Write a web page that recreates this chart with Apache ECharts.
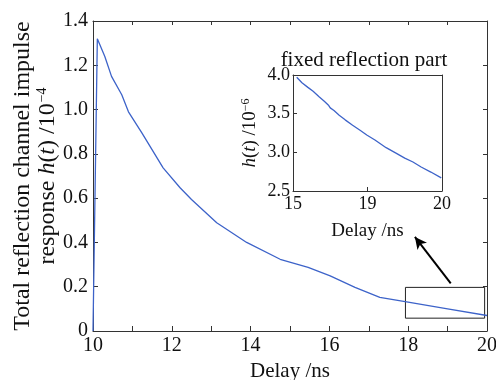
<!DOCTYPE html>
<html><head><meta charset="utf-8">
<script src="https://cdn.jsdelivr.net/npm/echarts@6/dist/echarts.min.js"></script>
<style>html,body{margin:0;padding:0;background:#fff}#c{width:496px;height:380px}</style>
</head><body><div id="c"></div>
<script>
// Main curve: delay (ns) vs h(t) (x1e-4)
const mainDelay = [10.0, 10.11, 10.3, 10.47, 10.73, 10.9, 11.24, 11.78, 12.21, 12.5, 13.14, 13.9, 14.75, 15.46, 16.02, 16.65, 17.28, 17.96, 19.0, 20.0];
const mainH     = [0, 1.32, 1.24, 1.15, 1.067, 0.99, 0.895, 0.737, 0.647, 0.594, 0.489, 0.40, 0.324, 0.287, 0.249, 0.197, 0.152, 0.132, 0.10, 0.07];
// Inset: fixed reflection part (x1e-6)
const insetDelay = [18.05, 18.12, 18.2, 18.27, 18.35, 18.42, 18.48, 18.5, 18.55, 18.62, 18.7, 18.8, 18.9, 18.99, 19.1, 19.25, 19.4, 19.5, 19.61, 19.72, 19.85, 19.99];
const insetH     = [3.97, 3.90, 3.84, 3.79, 3.72, 3.66, 3.605, 3.575, 3.54, 3.48, 3.42, 3.35, 3.285, 3.225, 3.16, 3.06, 2.98, 2.925, 2.875, 2.81, 2.745, 2.67];
// Tick labels
const mainYTicks = [0, 0.2, 0.4, 0.6, 0.8, 1.0, 1.2, 1.4];
const mainXTicks = [10, 12, 14, 16, 18, 20];
const insetXTicks = [18, 19, 20];
const insetXLabels = ['15', '19', '20'];
const insetYTicks = [2.5, 3.0, 3.5, 4.0];

const FONT = 'Liberation Serif';
const AX = '#333';
const LINE = '#3d63c9';

const chart = echarts.init(document.getElementById('c'), null, {renderer: 'canvas'});
const lbl = (sz) => ({color: '#111', fontFamily: FONT, fontSize: sz});

const option = {
  animation: false,
  backgroundColor: '#fff',
  grid: [
    {left: 93, right: 9, top: 21, bottom: 49, containLabel: false, outerBoundsMode: 'none'},
    {left: 293, right: 54, top: 75, bottom: 189, containLabel: false, outerBoundsMode: 'none'}
  ],
  xAxis: [
    {gridIndex: 0, type: 'value', min: 10, max: 20, interval: 2, position: 'bottom',
     name: 'Delay /ns', nameLocation: 'middle', nameGap: 30,
     nameTextStyle: lbl(21),
     axisLine: {show: true, lineStyle: {color: AX, width: 1}},
     axisTick: {show: true, inside: true, length: 5, lineStyle: {color: AX}},
     minorTick: {show: true, splitNumber: 2, length: 5, lineStyle: {color: AX}},
     axisLabel: Object.assign(lbl(20), {margin: 5, formatter: v => mainXTicks.includes(v) ? String(v) : ''}),
     splitLine: {show: false}},
    {gridIndex: 0, type: 'value', min: 10, max: 20, interval: 2, position: 'top',
     axisLine: {show: true, onZero: false, lineStyle: {color: AX, width: 1}},
     axisTick: {show: true, inside: true, length: 4, lineStyle: {color: AX}},
     minorTick: {show: true, splitNumber: 2, length: 4, lineStyle: {color: AX}},
     axisLabel: {show: false}, splitLine: {show: false}},
    {gridIndex: 1, type: 'value', min: 18, max: 20, interval: 1, position: 'bottom',
     name: 'Delay /ns', nameLocation: 'middle', nameGap: 31,
     nameTextStyle: lbl(19),
     axisLine: {show: true, lineStyle: {color: AX, width: 1}},
     axisTick: {show: true, inside: true, length: 4, lineStyle: {color: AX}},
     axisLabel: Object.assign(lbl(18), {margin: 4, formatter: v => {
       const i = insetXTicks.indexOf(v); return i >= 0 ? insetXLabels[i] : '';}}),
     splitLine: {show: false}},
    {gridIndex: 1, type: 'value', min: 18, max: 20, position: 'top',
     axisLine: {show: true, onZero: false, lineStyle: {color: AX, width: 1}},
     axisTick: {show: false}, axisLabel: {show: false}, splitLine: {show: false}}
  ],
  yAxis: [
    {gridIndex: 0, type: 'value', min: 0, max: 1.4, interval: 0.2, position: 'left',
     name: '{n|Total reflection channel impulse}\n{n|response }{i|h}{n|(}{i|t}{n|) /10}{s|−4}',
     nameLocation: 'middle', nameGap: 33, nameRotate: 90, nameMoveOverlap: false,
     nameTextStyle: {fontFamily: FONT, fontSize: 24, color: '#111', lineHeight: 25, align: 'center',
       rich: {
         n: {fontFamily: FONT, fontSize: 24, color: '#111', lineHeight: 25},
         i: {fontFamily: FONT, fontSize: 24, fontStyle: 'italic', color: '#111', lineHeight: 25},
         s: {fontFamily: FONT, fontSize: 14, color: '#111', verticalAlign: 'top', lineHeight: 25, padding: [0, 0, 0, 1]}
       }},
     axisLine: {show: true, onZero: false, lineStyle: {color: AX, width: 1}},
     axisTick: {show: true, inside: true, length: 5, lineStyle: {color: AX}},
     axisLabel: Object.assign(lbl(20), {margin: 5, formatter: v => {
       const t = mainYTicks.find(x => Math.abs(x - v) < 1e-9);
       if (t === undefined) return ''; return t === 0 ? '0' : t.toFixed(1);}}),
     splitLine: {show: false}},
    {gridIndex: 0, type: 'value', min: 0, max: 1.4, interval: 0.2, position: 'right',
     axisLine: {show: true, onZero: false, lineStyle: {color: AX, width: 1}},
     axisTick: {show: true, inside: true, length: 4, lineStyle: {color: AX}},
     axisLabel: {show: false}, splitLine: {show: false}},
    {gridIndex: 1, type: 'value', min: 2.5, max: 4.0, interval: 0.5, position: 'left',
     name: '{i|h}{n|(}{i|t}{n|) /10}{s|−6}',
     nameLocation: 'middle', nameGap: 33, nameRotate: 90,
     nameTextStyle: {fontFamily: FONT, fontSize: 19, color: '#111',
       rich: {
         n: {fontFamily: FONT, fontSize: 19, color: '#111', lineHeight: 20},
         i: {fontFamily: FONT, fontSize: 19, fontStyle: 'italic', color: '#111', lineHeight: 20},
         s: {fontFamily: FONT, fontSize: 12, color: '#111', verticalAlign: 'top', lineHeight: 20}
       }},
     axisLine: {show: true, onZero: false, lineStyle: {color: AX, width: 1}},
     axisTick: {show: true, inside: true, length: 4, lineStyle: {color: AX}},
     axisLabel: Object.assign(lbl(18), {margin: 3, formatter: v => {
       const t = insetYTicks.find(x => Math.abs(x - v) < 1e-9);
       return t === undefined ? '' : t.toFixed(1);}}),
     splitLine: {show: false}},
    {gridIndex: 1, type: 'value', min: 2.5, max: 4.0, position: 'right',
     axisLine: {show: true, onZero: false, lineStyle: {color: AX, width: 1}},
     axisTick: {show: false}, axisLabel: {show: false}, splitLine: {show: false}}
  ],
  graphic: [
    {type: 'text',
     style: {text: 'fixed reflection part', x: 364, y: 50, textAlign: 'center',
             font: '21px "' + FONT + '"', fill: '#111'}}
  ],
  series: [
    {type: 'line', xAxisIndex: 0, yAxisIndex: 0,
     data: mainDelay.map((d, i) => [d, mainH[i]]),
     showSymbol: false, symbol: 'none', lineStyle: {color: LINE, width: 1.3},
     markArea: {silent: true, itemStyle: {color: 'rgba(0,0,0,0)', borderColor: '#222', borderWidth: 1},
       data: [[{xAxis: 17.93, yAxis: 0.058}, {xAxis: 19.94, yAxis: 0.197}]]},
     markLine: {silent: true, symbol: ['none', 'arrow'], symbolSize: [9, 12],
       lineStyle: {color: '#000', width: 2, type: 'solid'}, label: {show: false},
       data: [[{coord: [19.08, 0.215]}, {coord: [18.17, 0.425]}]]}
    },
    {type: 'line', xAxisIndex: 2, yAxisIndex: 2,
     data: insetDelay.map((d, i) => [d, insetH[i]]),
     showSymbol: false, symbol: 'none', lineStyle: {color: LINE, width: 1.3}}
  ]
};
chart.setOption(option);
</script>
</body></html>
